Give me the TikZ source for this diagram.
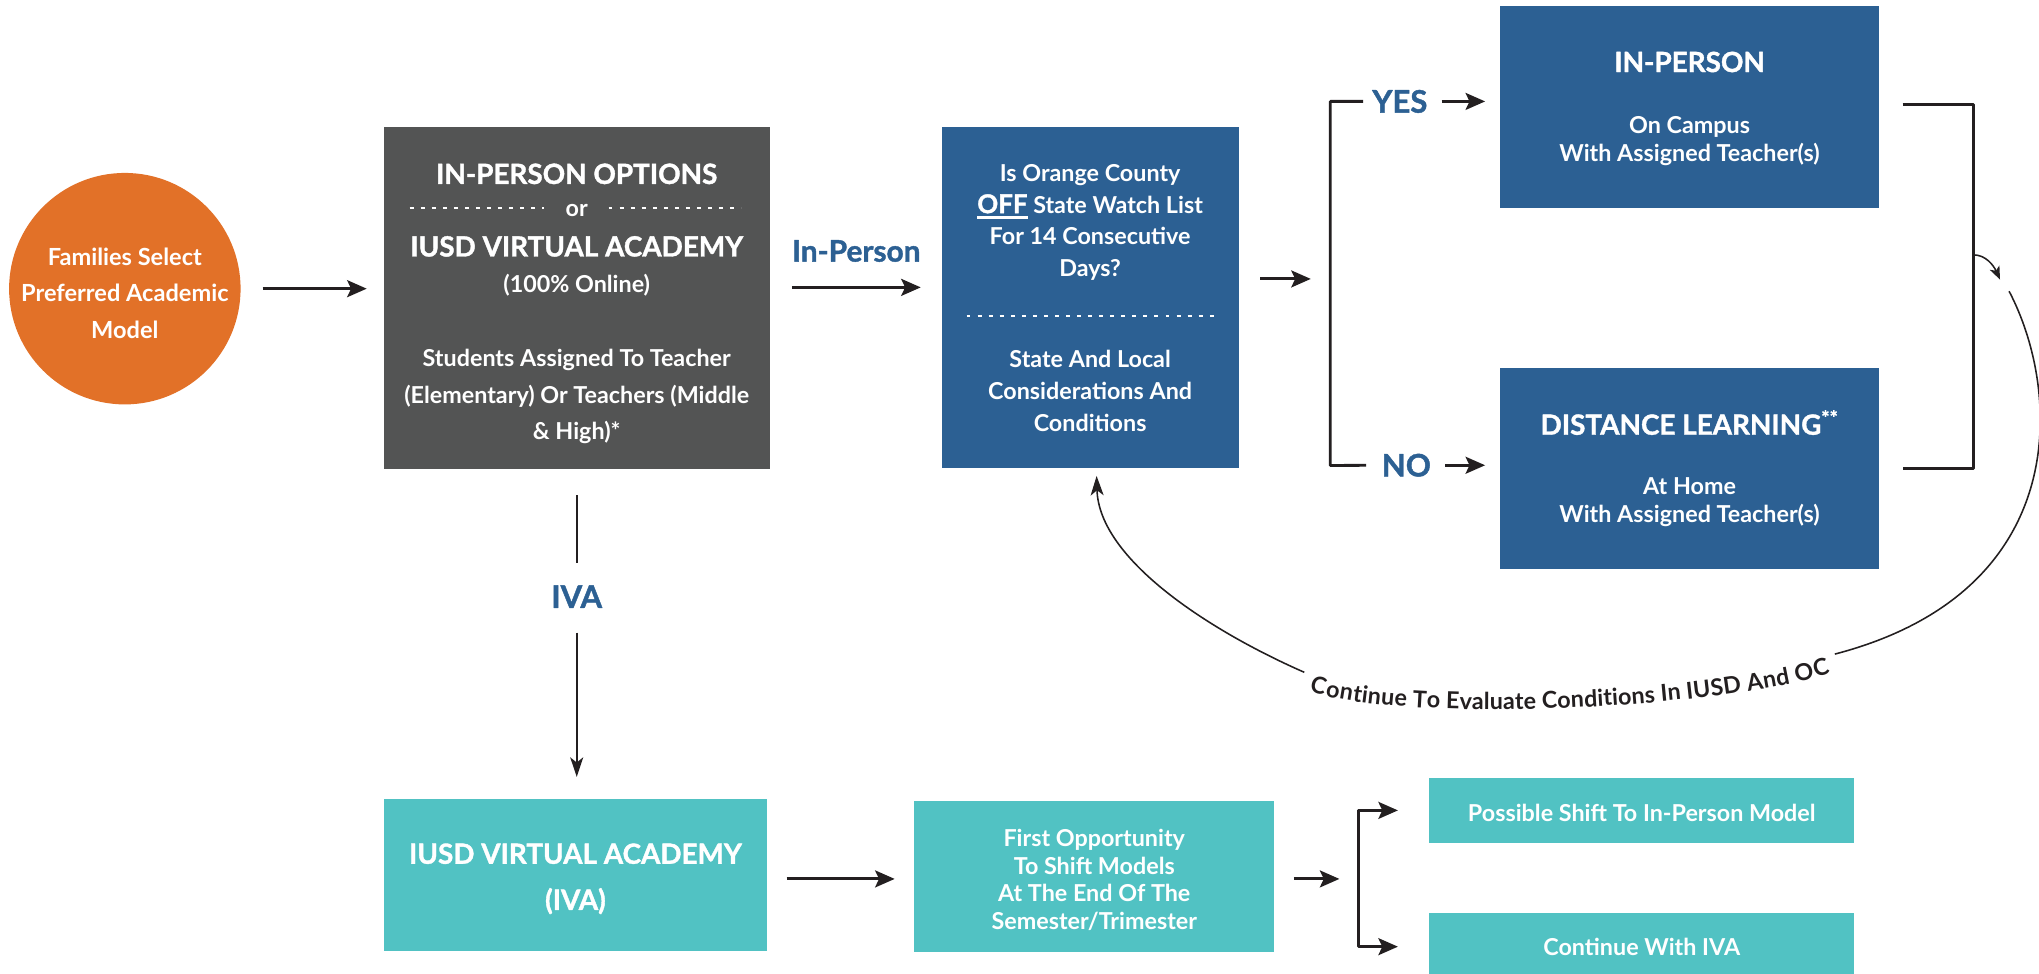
\documentclass[tikz,border=0pt]{standalone}
\usepackage{fontspec}
\setmainfont{Lato}
\newfontfamily\heavyfont{Lato}[BoldFeatures={FakeBold=1.3}]
\usetikzlibrary{arrows.meta,decorations.text}
\definecolor{orangefill}{HTML}{E27128}
\definecolor{greyfill}{HTML}{535454}
\definecolor{bluefill}{HTML}{2C6093}
\definecolor{tealfill}{HTML}{51C2C3}
\definecolor{inkcol}{HTML}{231F20}
\newcommand{\boxhead}[1]{{\heavyfont\bfseries\fontsize{21.5}{28}\selectfont #1}}
\newcommand{\barunder}[1]{\leavevmode\vtop{\hbox{#1}\kern2bp\hrule height 2bp}}

\begin{document}
\begin{tikzpicture}[>={Stealth[length=15bp,width=13bp,inset=3bp]},line join=bevel,color=inkcol,
  every node/.style={inner sep=0pt,outer sep=0pt},
  box/.style={rectangle,align=center,text=white,font=\bfseries\fontsize{18}{28}\selectfont},
  lbl/.style={text=bluefill,font=\heavyfont\bfseries\fontsize{24}{24}\selectfont},
  thin line/.style={line width=1.2bp},
  tarrow/.style={line width=1.2bp,-{Stealth[length=15bp,width=10bp,inset=4bp]}},
  dots/.style={white,line width=1bp,dash pattern=on 3bp off 5.5bp}]
  \pgfsetlinewidth{2.2bp}
  \useasboundingbox (0bp,0bp) rectangle (1568bp,749bp);
\begin{scope}
  \definecolor{fillcol}{rgb}{1.0,1.0,1.0};
  \fill[fillcol] (0bp,0bp) rectangle (1568bp,749bp);
\end{scope}
  % Node: fam
  \node[circle,fill=orangefill,minimum size=178bp,text=white,align=center,font=\bfseries\fontsize{18.2}{28}\selectfont] (fam) at (96bp,527bp)
    {\rule{0pt}{20.5bp}Families Select\\Preferred Academic\\Model};
  % Node: opts
  \node[box,fill=greyfill,minimum width=297bp,minimum height=263bp] (opts) at (443.5bp,519.5bp)
    {\rule{0pt}{23.5bp}\boxhead{IN-PERSON OPTIONS}\\[-3bp] or\\[3bp] \boxhead{IUSD VIRTUAL ACADEMY}\\ (100\% Online)\\[29bp]
     Students Assigned To Teacher\\ (Elementary) Or Teachers (Middle\\ \& High)*};
  \draw[dots] ([xshift=-128.5bp,yshift=69.5bp]opts.center) -- ([xshift=-25.5bp,yshift=69.5bp]opts.center);
  \draw[dots] ([xshift=24.5bp,yshift=69.5bp]opts.center) -- ([xshift=126.5bp,yshift=69.5bp]opts.center);
  % Node: cond
  \node[box,fill=bluefill,minimum width=228.5bp,minimum height=262bp,font=\bfseries\fontsize{18}{24.5}\selectfont] (cond) at (838.3bp,520bp)
    {Is Orange County\\ \barunder{\heavyfont\bfseries\fontsize{20}{24.5}\selectfont OFF} State Watch List\\ For 14 Consecutive\\ Days?\\[45.5bp]
     State And Local\\ Considerations And\\ Conditions};
  \draw[dots] ([xshift=-95bp,yshift=-14bp]cond.center) -- ([xshift=95bp,yshift=-14bp]cond.center);
  % Node: inp
  \node[box,fill=bluefill,minimum width=291.5bp,minimum height=155.6bp,font=\bfseries\fontsize{18}{21.5}\selectfont] (inp) at (1299.3bp,666.8bp)
    {\rule{0pt}{18.5bp}\boxhead{IN-PERSON}\\[26bp] On Campus\\ With Assigned Teacher(s)};
  % Node: dist
  \node[box,fill=bluefill,minimum width=291.5bp,minimum height=154.6bp,font=\bfseries\fontsize{18}{21.5}\selectfont] (dist) at (1299.3bp,389bp)
    {\rule{0pt}{19.5bp}\boxhead{DISTANCE LEARNING\textsuperscript{**}}\\[24.8bp] At Home\\ With Assigned Teacher(s)};
  % Node: iva
  \node[box,fill=tealfill,minimum width=295bp,minimum height=117bp] (iva) at (442.5bp,76.1bp)
    {\rule{0pt}{21.5bp}\boxhead{IUSD VIRTUAL ACADEMY}\\[7.5bp] \boxhead{(IVA)}};
  % Node: first
  \node[box,fill=tealfill,minimum width=277bp,minimum height=116bp,font=\bfseries\fontsize{18}{21.3}\selectfont] (first) at (841.5bp,75.1bp)
    {\rule{0pt}{18.5bp}First Opportunity\\ To Shift Models\\ At The End Of The\\ Semester/Trimester};
  % Node: poss
  \node[box,fill=tealfill,minimum width=327bp,minimum height=49.7bp,font=\bfseries\fontsize{18}{21}\selectfont] (poss) at (1262.5bp,125.8bp)
    {\rule{0pt}{17bp}Possible Shift To In-Person Model};
  % Node: cont
  \node[box,fill=tealfill,minimum width=327bp,minimum height=52bp,font=\bfseries\fontsize{18}{21}\selectfont] (cont) at (1262.5bp,21bp) {Continue With IVA};
  % Labels
  \node[lbl,font=\heavyfont\bfseries\fontsize{23}{23}\selectfont] (inp-lbl) at (658.5bp,556bp) {In-Person};
  \node[lbl] (yes) at (1076.5bp,671bp) {YES};
  \node[lbl] (no) at (1081.5bp,391.2bp) {NO};
  \node[lbl] (iva-lbl) at (443.5bp,290.2bp) {IVA};
  % Edge: fam -> opts
  \draw[->,shorten <=17bp,shorten >=13bp] (fam.east) -- (fam.east -| opts.west);
  % Edge: opts -> cond
  \draw[->,shorten <=17bp,shorten >=16bp] ([yshift=8.5bp]opts.east) -- ([yshift=8.5bp]opts.east -| cond.west);
  % Edge: cond -> split
  \coordinate (brk-t) at (1023bp,671bp);
  \coordinate (brk-b) at (1023bp,391bp);
  \draw[->,shorten <=16.5bp,shorten >=15bp] ([yshift=14.5bp]cond.east) -- ([yshift=14.5bp]cond.east -| brk-t);
  \draw ([xshift=-7bp]yes.west) -- (brk-t) -- (brk-b) -- ([xshift=-12bp]no.west);
  % Edge: split -> inp
  \draw[->,shorten <=11bp,shorten >=11.5bp] (yes.east) -- (yes.east -| inp.west);
  % Edge: split -> dist
  \draw[->,shorten <=11bp,shorten >=11.5bp] (no.east) -- (no.east -| dist.west);
  % Edge: inp, dist -> loop
  \draw ([xshift=18bp,yshift=2bp]inp.east) -- ++(54.6bp,0) |- ([xshift=18bp]dist.east);
  \coordinate (loop-in) at (1517.6bp,553bp);
  \coordinate (loop-out) at (1538bp,534bp);
  \draw[thin line,-{Stealth[length=10bp,width=8bp,inset=2.5bp]}] (loop-in) .. controls (1527bp,553bp) and (1533bp,545bp) .. (loop-out);
  % Edge: loop -> cond
  \coordinate (ret-a) at (1545bp,525bp);
  \coordinate (ret-b) at (1411bp,246bp);
  \coordinate (ret-c) at (1003bp,232bp);
  \draw[thin line] (ret-a) .. controls (1585bp,449bp) and (1595bp,294bp) .. (ret-b);
  \path[decorate,decoration={text along path,text align=center,raise=-13bp,text color=inkcol,
    text={|\bfseries\fontsize{18}{18}\selectfont|Continue To Evaluate Conditions In IUSD And OC}}]
    (ret-c) .. controls (1075bp,204bp) and (1330bp,217bp) .. (ret-b);
  \draw[tarrow] (ret-c) .. controls (930bp,264bp) and (845bp,319bp) .. ([xshift=5bp,yshift=-6bp]cond.south);
  % Edge: opts -> iva
  \draw[thin line] ([yshift=-20bp]opts.south) -- ([yshift=17bp]iva-lbl.north);
  \draw[tarrow,shorten <=19bp,shorten >=17bp] (iva-lbl.south) -- (iva-lbl.south |- iva.north);
  % Edge: iva -> first
  \draw[->,shorten <=15bp,shorten >=15bp] ([yshift=-3bp]iva.east) -- ([yshift=-3bp]iva.east -| first.west);
  % Edge: first -> poss, cont
  \draw[->,shorten <=15bp] ([yshift=-2bp]first.east) -- ++(50bp,0);
  \draw[<->] ([xshift=-24bp]poss.west) -- ++(-30bp,0) |- ([xshift=-24bp]cont.west);
%
\end{tikzpicture}
\end{document}
